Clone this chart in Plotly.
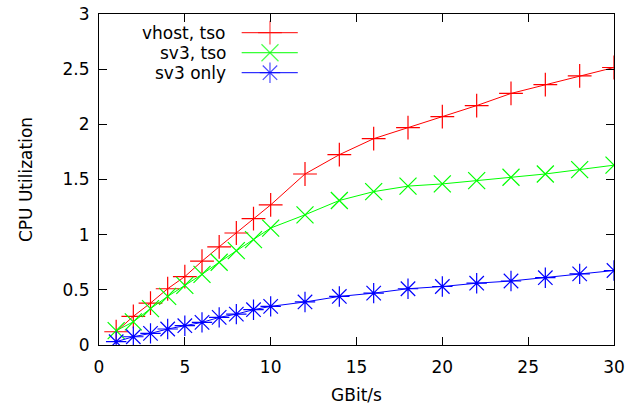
import plotly.graph_objects as go

x_vals = [1, 2, 3, 4, 5, 6, 7, 8, 9, 10, 12, 14, 16, 18, 20, 22, 24, 26, 28, 30]
vhost_tso = [0.12, 0.26, 0.38, 0.51, 0.62, 0.76, 0.89, 1.015, 1.145, 1.27,
             1.55, 1.725, 1.87, 1.97, 2.07, 2.17, 2.28, 2.36, 2.44, 2.515]
sv3_tso = [0.13, 0.21, 0.33, 0.44, 0.54, 0.64, 0.75, 0.855, 0.955, 1.06,
           1.18, 1.31, 1.39, 1.44, 1.46, 1.49, 1.52, 1.55, 1.59, 1.63]
sv3_only = [0.03, 0.075, 0.105, 0.145, 0.175, 0.205, 0.25, 0.28, 0.32, 0.35,
            0.39, 0.44, 0.47, 0.51, 0.53, 0.56, 0.58, 0.61, 0.645, 0.675]

series_names = ["vhost, tso", "sv3, tso", "sv3 only"]
series_values = [vhost_tso, sv3_tso, sv3_only]
series_colors = ["#ff0000", "#00ff00", "#0000ff"]
series_symbols = ["cross-thin-open", "x-thin-open", "asterisk-open"]

x_ticks = [0, 5, 10, 15, 20, 25, 30]
y_ticks = [0, 0.5, 1, 1.5, 2, 2.5, 3]
y_tick_labels = ["0", "0.5", "1", "1.5", "2", "2.5", "3"]

FONT = "DejaVu Sans"
FS = 17

fig = go.Figure()
for name, vals, col, sym in zip(series_names, series_values, series_colors, series_symbols):
    fig.add_trace(go.Scatter(
        x=x_vals, y=vals, name=name, mode="lines+markers",
        line=dict(color=col, width=1),
        marker=dict(symbol=sym, size=17, color=col, line=dict(color=col, width=1.2)),
        showlegend=False,
    ))

# Custom gnuplot-style legend (text on left, sample on right) on hidden overlay axes
legend_y = [0.9435, 0.883, 0.8227]
for name, col, sym, ly in zip(series_names, series_colors, series_symbols, legend_y):
    fig.add_trace(go.Scatter(
        x=[0.277, 0.332, 0.386], y=[ly, ly, ly], xaxis="x2", yaxis="y2",
        mode="lines+markers", line=dict(color=col, width=1),
        marker=dict(symbol=sym, size=[0, 17, 0], color=col, line=dict(color=col, width=1.2)),
        showlegend=False, hoverinfo="skip",
    ))
    fig.add_annotation(x=0.250, y=ly, xref="paper", yref="paper", text=name,
                       showarrow=False, xanchor="right", yanchor="middle",
                       font=dict(family=FONT, size=FS, color="black"))

axis_common = dict(showgrid=False, zeroline=False, showline=True, linecolor="black",
                   linewidth=1, mirror="allticks", ticks="inside", ticklen=8,
                   tickcolor="black", automargin=False, ticklabeloverflow="allow",
                   tickfont=dict(family=FONT, size=FS, color="black"))

fig.update_layout(
    width=630, height=405,
    margin=dict(l=99, r=15.5, t=14, b=60),
    plot_bgcolor="white", paper_bgcolor="white",
    xaxis=dict(range=[0, 30], tickvals=x_ticks, ticklabelstandoff=7,
               title=dict(text="GBit/s", font=dict(family=FONT, size=FS, color="black"), standoff=18),
               **axis_common),
    yaxis=dict(range=[0, 3], tickvals=y_ticks, ticktext=y_tick_labels, ticklabelstandoff=5,
               title=dict(text="CPU Utilization", font=dict(family=FONT, size=FS, color="black"), standoff=25),
               **axis_common),
    xaxis2=dict(overlaying="x", range=[0, 1], visible=False),
    yaxis2=dict(overlaying="y", range=[0, 1], visible=False),
    font=dict(family=FONT),
)

# remove the browser's default 8px body margin so the figure fills the window exactly
fig.write_html("out.html", config={"displayModeBar": False},
               post_script="document.body.style.margin='0';")
